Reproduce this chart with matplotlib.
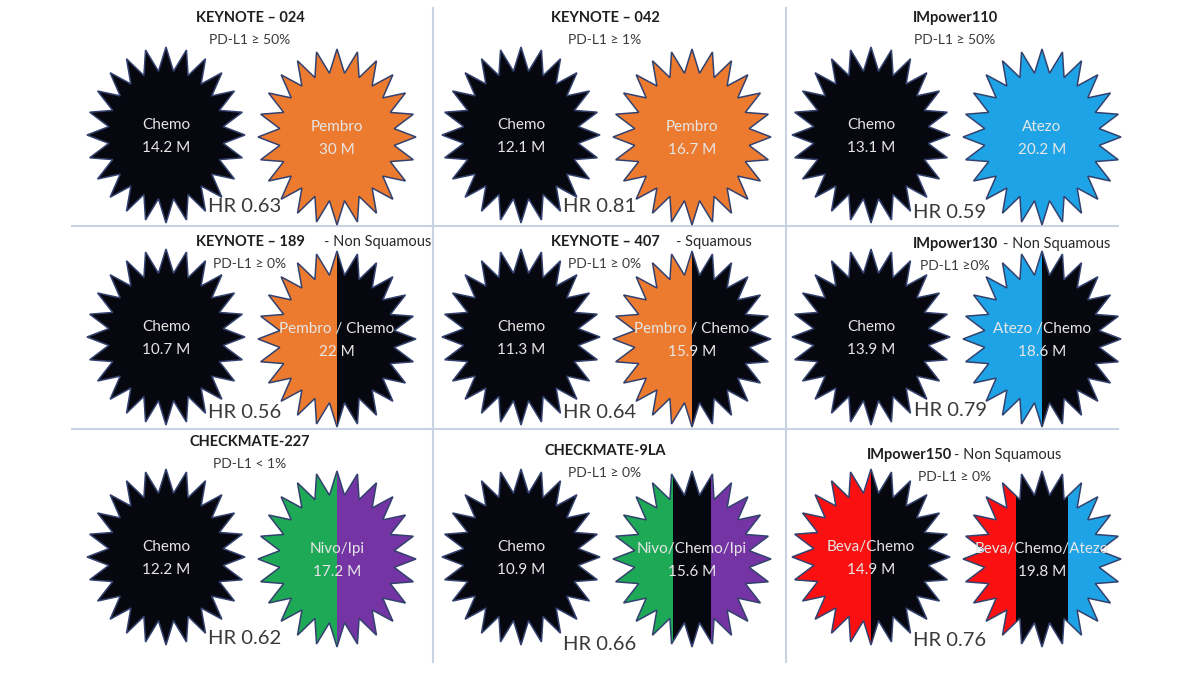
import numpy as np
import matplotlib
matplotlib.use("Agg")
import matplotlib.pyplot as plt
from matplotlib.patches import Polygon, Rectangle

plt.rcParams['font.family'] = ['Lato', 'DejaVu Sans']

# data
trials = ["KEYNOTE – 024", "KEYNOTE – 042", "IMpower110",
          "KEYNOTE – 189", "KEYNOTE – 407", "IMpower130",
          "CHECKMATE-227", "CHECKMATE-9LA", "IMpower150"]
histology = ["", "", "", "- Non Squamous", "- Squamous", "- Non Squamous",
             "", "", "- Non Squamous"]
pdl1 = ["PD-L1 ≥ 50%", "PD-L1 ≥ 1%", "PD-L1 ≥ 50%",
        "PD-L1 ≥ 0%", "PD-L1 ≥ 0%", "PD-L1 ≥0%",
        "PD-L1 < 1%", "PD-L1 ≥ 0%", "PD-L1 ≥ 0%"]
control_arm = ["Chemo", "Chemo", "Chemo", "Chemo", "Chemo", "Chemo",
               "Chemo", "Chemo", "Beva/Chemo"]
control_os = [14.2, 12.1, 13.1, 10.7, 11.3, 13.9, 12.2, 10.9, 14.9]
exp_arm = ["Pembro", "Pembro", "Atezo",
           "Pembro / Chemo", "Pembro / Chemo", "Atezo /Chemo",
           "Nivo/Ipi", "Nivo/Chemo/Ipi", "Beva/Chemo/Atezo"]
exp_os = [30, 16.7, 20.2, 22, 15.9, 18.6, 17.2, 15.6, 19.8]
hr = [0.63, 0.81, 0.59, 0.56, 0.64, 0.79, 0.62, 0.66, 0.76]

# styling
drug_colors = {"Chemo": "#07070f", "Pembro": "#ec7b2f", "Atezo": "#1ea4e6",
               "Nivo": "#1ea956", "Ipi": "#7534a4", "Beva": "#fa1010"}
# middle stripe of 9LA is narrower
stripe_cuts = {7: [0.38, 0.62]}

col_x = [250, 605, 955]
row_star_y = [135, 337, 557]
row_title_y = [[18, 18, 18], [242, 242, 244], [442, 451, 455]]
row_hr_y = [[207, 207, 212], [412, 412, 411], [638, 644, 640]]
title_dx = [0, 0, 0, 0, 0, 0, 0, 0, -45]
hist_gap = [0, 0, 0, 14, 12, 4, 0, 0, 1]
rx, ry = 79, 88


def star_xy(cx, cy, n=24, inner=0.73):
    ang = np.pi / 2 + np.arange(2 * n) * np.pi / n
    r = np.where(np.arange(2 * n) % 2 == 0, 1.0, inner)
    return np.column_stack([cx + rx * r * np.cos(ang), cy - ry * r * np.sin(ang)])


def draw_star(ax, cx, cy, arm, value, cuts=None):
    parts = [p.strip() for p in arm.split("/")]
    poly = Polygon(star_xy(cx, cy), closed=True, facecolor="none",
                   edgecolor="#33416e", lw=1.1, zorder=3)
    ax.add_patch(poly)
    if cuts is None:
        cuts = list(np.arange(1, len(parts)) / len(parts))
    edges = [0] + cuts + [1]
    for k, p in enumerate(parts):
        x0 = cx - rx + 2 * rx * edges[k]
        x1 = cx - rx + 2 * rx * edges[k + 1]
        rect = Rectangle((x0, cy - ry - 2), x1 - x0, 2 * ry + 4,
                         facecolor=drug_colors[p], edgecolor="none", zorder=2)
        ax.add_patch(rect)
        rect.set_clip_path(poly)
    ax.text(cx, cy - 10, arm, ha="center", va="center", color="#e6e6e6",
            fontsize=11, zorder=5)
    ax.text(cx, cy + 13, f"{value:g} M", ha="center", va="center",
            color="#e6e6e6", fontsize=11, zorder=5)


fig = plt.figure(figsize=(12, 6.75), dpi=100)
ax = fig.add_axes([0, 0, 1, 1])
ax.set_xlim(0, 1200)
ax.set_ylim(675, 0)
ax.axis("off")

# grid lines between panels
grid_c = "#c9d2e2"
for gx in [433, 786]:
    ax.plot([gx, gx], [8, 662], color=grid_c, lw=1.5, zorder=1)
for gy in [226, 429]:
    ax.plot([72, 1118], [gy, gy], color=grid_c, lw=1.5, zorder=1)

for i in range(9):
    r, c = divmod(i, 3)
    cx = col_x[c]
    sy = row_star_y[r]
    draw_star(ax, cx - 84, sy, control_arm[i], control_os[i])
    draw_star(ax, cx + 87, sy + 2, exp_arm[i], exp_os[i], stripe_cuts.get(i))

    ty = row_title_y[r][c]
    t = ax.text(cx + title_dx[i], ty, trials[i], ha="center", va="center",
                fontsize=10.5, fontweight="bold", color="#1e1e1e", zorder=6)
    if histology[i]:
        ax.annotate(histology[i], xy=(1, 0.5), xycoords=t,
                    xytext=(hist_gap[i], 0), textcoords="offset points",
                    ha="left", va="center", fontsize=10.5, color="#2a2a2a",
                    zorder=6)
    ax.text(cx, ty + 22, pdl1[i], ha="center", va="center", fontsize=10,
            color="#3a3a3a", zorder=6)
    ax.text(cx - 5, row_hr_y[r][c], f"HR {hr[i]:.2f}", ha="center",
            va="center", fontsize=14.5, color="#3a3a3a", zorder=6)

fig.savefig("out.png", dpi=100, facecolor="white")
